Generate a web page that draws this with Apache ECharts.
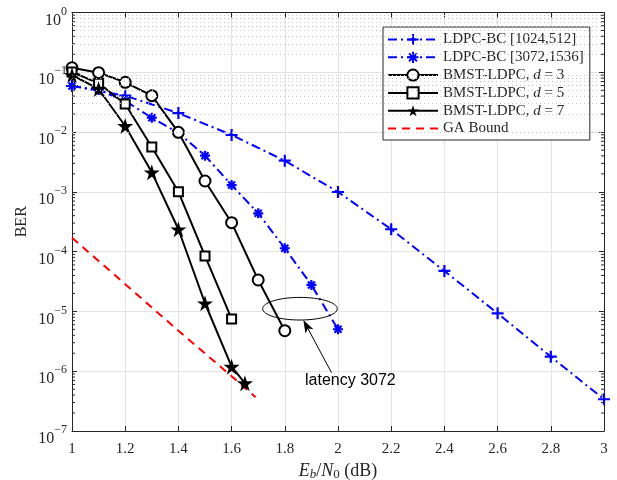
<!doctype html>
<html>
<head>
<meta charset="utf-8">
<title>BER</title>
<script src="https://cdn.jsdelivr.net/npm/echarts@6/dist/echarts.min.js"></script>
<style>
    html, body {margin: 0; padding: 0; background: #fff;}
    #container {width: 617px; height: 480px;}
</style>
</head>
<body>
<div id="container"></div>
<script type="text/javascript">
// Eb/N0 (dB) and BER per curve
var snr_1024 = [1.0, 1.2, 1.4, 1.6, 1.8, 2.0, 2.2, 2.4, 2.6, 2.8, 3.0];
var ber_1024 = [0.059, 0.0406, 0.0208, 8.94e-3, 3.32e-3, 9.95e-4, 2.37e-4, 4.75e-5, 9.3e-6, 1.75e-6, 3.4e-7];

var snr_3072 = [1.0, 1.1, 1.2, 1.3, 1.4, 1.5, 1.6, 1.7, 1.8, 1.9, 2.0];
var ber_3072 = [0.059, 0.0506, 0.0331, 0.0174, 9.66e-3, 4.03e-3, 1.30e-3, 4.38e-4, 1.14e-4, 2.77e-5, 5.03e-6];

var snr_d3 = [1.0, 1.1, 1.2, 1.3, 1.4, 1.5, 1.6, 1.7, 1.8];
var ber_d3 = [0.119, 0.0985, 0.068, 0.0406, 9.9e-3, 1.52e-3, 3.05e-4, 3.36e-5, 4.76e-6];

var snr_d5 = [1.0, 1.1, 1.2, 1.3, 1.4, 1.5, 1.6];
var ber_d5 = [0.101, 0.0654, 0.0295, 5.63e-3, 1.0e-3, 8.46e-5, 7.48e-6];

var snr_d7 = [1.0, 1.1, 1.2, 1.3, 1.4, 1.5, 1.6, 1.65];
var ber_d7 = [0.090, 0.0526, 0.01265, 2.12e-3, 2.37e-4, 1.37e-5, 1.19e-6, 6.3e-7];

var snr_ga = [1.0, 1.2, 1.4, 1.6, 1.69];
var ber_ga = [1.71e-4, 2.86e-5, 4.76e-6, 8.26e-7, 3.67e-7];

var seriesNames = ['LDPC-BC [1024,512]', 'LDPC-BC [3072,1536]', 'BMST-LDPC, d = 3',
    'BMST-LDPC, d = 5', 'BMST-LDPC, d = 7', 'GA Bound'];

// annotation: ellipse centre, arrow tail/tip, text anchor (data coords)
var noteEllipse = [1.857, 1.11e-5];
var noteArrowTip = [1.8696, 7.2e-6];
var noteArrowTail = [1.9756, 9.46e-7];
var noteText = [1.876, 7.1e-7];
var noteLabel = 'latency 3072';

var serif = 'Liberation Serif';
var txt = '#262626';

function pairs(xs, ys) {
    var out = [];
    for (var i = 0; i < xs.length; i++) out.push([xs[i], ys[i]]);
    return out;
}

// minor grid values 2..9 x 10^k
var minorVals = [];
for (var k = -7; k < 0; k++) {
    for (var m = 2; m <= 9; m++) minorVals.push(m * Math.pow(10, k));
}

var plusPath = 'path://M0,5L10,5M5,0L5,10';
var asteriskPath = 'path://M0,5L10,5M5,0L5,10M1.5,1.5L8.5,8.5M1.5,8.5L8.5,1.5';
var starPath = 'path://M50,0L61,35L98,35L68,57L79,91L50,70L21,91L32,57L2,35L39,35Z';

function expLabel(v) {
    var e = Math.round(Math.log10(v));
    return '{b|10}{s|' + (e < 0 ? '\u2212' + (-e) : e) + '}';
}

var dom = document.getElementById('container');
var myChart = echarts.init(dom);

var legendData = seriesNames.map(function (n) {
    if (n === 'GA Bound') return {name: n, itemStyle: {opacity: 0}};
    return {name: n};
});

var option = {
    animation: false,
    backgroundColor: '#fff',
    grid: {left: 72, right: 13, top: 12.5, bottom: 49, outerBoundsMode: 'none', containLabel: false},
    legend: {
        data: legendData,
        orient: 'vertical',
        left: 383,
        top: 27,
        padding: [5, 6, 4, 4],
        itemWidth: 50,
        itemHeight: 14,
        itemGap: 2.8,
        backgroundColor: '#fff',
        borderColor: txt,
        borderWidth: 1,
        borderRadius: 0,
        textStyle: {
            fontFamily: serif, fontSize: 15, color: txt,
            rich: {i: {fontFamily: serif, fontSize: 15, fontStyle: 'italic', color: txt}}
        },
        formatter: function (name) {
            var m = name.match(/^(BMST-LDPC, )d( = \d)$/);
            if (m) return m[1] + '{i|d}' + m[2];
            return name;
        }
    },
    xAxis: [{
        type: 'value',
        min: 1, max: 3, interval: 0.2,
        name: '{i|E}{sub|b}{t|/}{i|N}{n|0}{t| (dB)}',
        nameLocation: 'middle',
        nameGap: 28,
        nameTextStyle: {
            fontFamily: serif, fontSize: 18, color: txt,
            rich: {
                t: {fontFamily: serif, fontSize: 18, color: txt},
                i: {fontFamily: serif, fontSize: 18, fontStyle: 'italic', color: txt},
                sub: {fontFamily: serif, fontSize: 13, fontStyle: 'italic', color: txt, padding: [8, 0, 0, 0]},
                n: {fontFamily: serif, fontSize: 13, color: txt, padding: [8, 0, 0, 0]}
            }
        },
        axisLine: {lineStyle: {color: txt, width: 1}},
        axisTick: {inside: true, length: 5, lineStyle: {color: txt}},
        axisLabel: {
            fontFamily: serif, fontSize: 15, color: txt, margin: 11,
            formatter: function (v) { return String(+v.toFixed(1)); }
        },
        splitLine: {show: true, lineStyle: {color: '#e3e3e3', width: 1}}
    }, {
        type: 'value',
        position: 'top',
        min: 1, max: 3, interval: 0.2,
        axisLine: {lineStyle: {color: txt, width: 1}},
        axisTick: {inside: true, length: 5, lineStyle: {color: txt}},
        axisLabel: {show: false},
        splitLine: {show: false}
    }],
    yAxis: [{
        type: 'log',
        logBase: 10,
        min: 1e-7, max: 1,
        name: 'BER',
        nameLocation: 'middle',
        nameGap: 42,
        nameMoveOverlap: false,
        nameTextStyle: {fontFamily: serif, fontSize: 16, color: txt},
        axisLine: {lineStyle: {color: txt, width: 1}},
        axisTick: {inside: true, length: 5, lineStyle: {color: txt}},
        axisLabel: {
            margin: 5,
            formatter: expLabel,
            rich: {
                b: {fontFamily: serif, fontSize: 16, color: txt, padding: [16, 0, 0, 0]},
                s: {fontFamily: serif, fontSize: 12, color: txt, padding: [0, 0, 2, 0]}
            }
        },
        splitLine: {show: true, lineStyle: {color: '#e3e3e3', width: 1}}
    }, {
        type: 'log',
        logBase: 10,
        position: 'right',
        min: 1e-7, max: 1,
        axisLine: {lineStyle: {color: txt, width: 1}},
        axisTick: {inside: true, length: 5, lineStyle: {color: txt}},
        axisLabel: {show: false},
        splitLine: {show: false}
    }],
    series: [
        {
            name: 'minor-grid',
            type: 'line',
            data: [],
            z: 0,
            silent: true,
            markLine: {
                silent: true,
                symbol: ['none', 'none'],
                label: {show: false},
                lineStyle: {color: '#c8c8c8', type: [1, 3], width: 1},
                data: minorVals.map(function (v) { return {yAxis: v}; })
            }
        },
        {
            name: seriesNames[0],
            type: 'line',
            data: pairs(snr_1024, ber_1024),
            lineStyle: {color: '#0000ff', width: 2, type: [9, 4, 2, 4]},
            symbol: plusPath,
            symbolSize: 12,
            itemStyle: {color: '#0000ff', borderColor: '#0000ff', borderWidth: 2.2}
        },
        {
            name: seriesNames[1],
            type: 'line',
            data: pairs(snr_3072, ber_3072),
            lineStyle: {color: '#0000ff', width: 2, type: [9, 4, 2, 4]},
            symbol: asteriskPath,
            symbolSize: 10,
            itemStyle: {color: '#0000ff', borderColor: '#0000ff', borderWidth: 2.2}
        },
        {
            name: seriesNames[2],
            type: 'line',
            data: pairs(snr_d3, ber_d3),
            lineStyle: {color: '#000', width: 2},
            symbol: 'emptyCircle',
            symbolSize: 11,
            itemStyle: {color: '#000', borderColor: '#000', borderWidth: 2}
        },
        {
            name: seriesNames[3],
            type: 'line',
            data: pairs(snr_d5, ber_d5),
            lineStyle: {color: '#000', width: 2},
            symbol: 'emptyRect',
            symbolSize: 9,
            itemStyle: {color: '#000', borderColor: '#000', borderWidth: 2}
        },
        {
            name: seriesNames[4],
            type: 'line',
            data: pairs(snr_d7, ber_d7),
            lineStyle: {color: '#000', width: 2},
            symbol: starPath,
            symbolSize: 16,
            itemStyle: {color: '#000'}
        },
        {
            name: seriesNames[5],
            type: 'line',
            data: pairs(snr_ga, ber_ga),
            lineStyle: {color: '#ff0000', width: 2, type: [8, 6]},
            symbol: 'none',
            itemStyle: {color: '#ff0000'}
        }
    ]
};

myChart.setOption(option, true);

// annotation and minor ticks, placed through the axes
function px(p) {
    return myChart.convertToPixel({xAxisIndex: 0, yAxisIndex: 0}, p);
}
var g = [];
var c = px(noteEllipse);
g.push({type: 'ellipse', shape: {cx: c[0], cy: c[1], rx: 37.3, ry: 11.3},
    style: {fill: 'none', stroke: '#000', lineWidth: 1}, z: 50});
var a = px(noteArrowTail), b = px(noteArrowTip);
var dx = b[0] - a[0], dy = b[1] - a[1], len = Math.sqrt(dx * dx + dy * dy);
var ux = dx / len, uy = dy / len, hl = 13, hw = 4.5;
var bx = b[0] - ux * hl, by = b[1] - uy * hl;
g.push({type: 'line', shape: {x1: a[0], y1: a[1], x2: bx + ux * 3, y2: by + uy * 3},
    style: {stroke: '#000', lineWidth: 1}, z: 50});
g.push({type: 'polygon', shape: {points: [
        [b[0], b[1]],
        [bx - uy * hw, by + ux * hw],
        [b[0] - ux * hl * 0.75, b[1] - uy * hl * 0.75],
        [bx + uy * hw, by - ux * hw]]},
    style: {fill: '#000'}, z: 50});
var t = px(noteText);
g.push({type: 'text', x: t[0], y: t[1],
    style: {text: noteLabel, fill: '#000', font: '16px "Liberation Sans"', verticalAlign: 'middle'}, z: 50});

var left = px([1, 1])[0], right = px([3, 1])[0];
minorVals.forEach(function (v) {
    var y = px([1, v])[1];
    g.push({type: 'line', shape: {x1: left, y1: y, x2: left + 3, y2: y}, style: {stroke: txt, lineWidth: 1}, z: 40});
    g.push({type: 'line', shape: {x1: right, y1: y, x2: right - 3, y2: y}, style: {stroke: txt, lineWidth: 1}, z: 40});
});
myChart.setOption({graphic: g});
</script>
</body>
</html>
